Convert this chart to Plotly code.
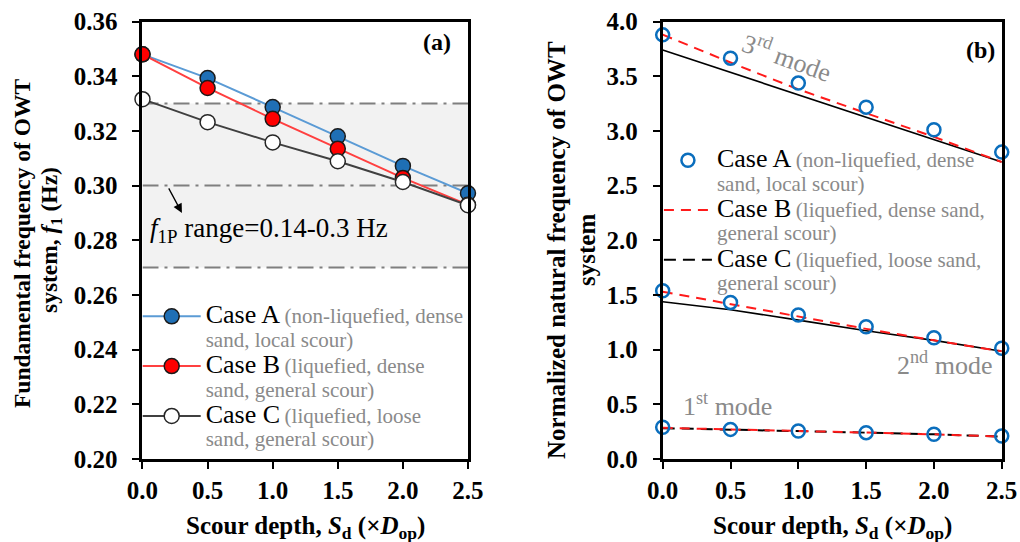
import plotly.graph_objects as go

# Scour depth (multiples of pile diameter D_op)
sd = [0.0, 0.5, 1.0, 1.5, 2.0, 2.5]

# (a) Fundamental frequency f1 (Hz)
f1_case_a = [0.348, 0.3393, 0.3287, 0.3180, 0.3072, 0.2972]
f1_case_b = [0.348, 0.3357, 0.3244, 0.3135, 0.3028, 0.2930]
f1_case_c = [0.3316, 0.3232, 0.3158, 0.3089, 0.3013, 0.2928]

# 1P band limits and reference line
band_low, band_high, band_mid = 0.27, 0.33, 0.30

# (b) Normalized natural frequencies, modes 1-3
mode1_a = [0.290, 0.271, 0.256, 0.241, 0.226, 0.210]
mode1_b = [0.285, 0.272, 0.257, 0.242, 0.226, 0.205]
mode1_c = [0.282, 0.270, 0.256, 0.241, 0.226, 0.205]
mode2_a = [1.538, 1.432, 1.316, 1.210, 1.109, 1.012]
mode2_b = [1.530, 1.415, 1.300, 1.190, 1.085, 0.985]
mode2_c = [1.438, 1.365, 1.270, 1.173, 1.085, 0.985]
mode3_a = [3.878, 3.665, 3.437, 3.217, 3.010, 2.806]
mode3_b = [3.880, 3.625, 3.380, 3.165, 2.945, 2.715]
mode3_c = [3.740, 3.535, 3.330, 3.130, 2.925, 2.715]

x_ticks = [0.0, 0.5, 1.0, 1.5, 2.0, 2.5]
ya_ticks = [0.20, 0.22, 0.24, 0.26, 0.28, 0.30, 0.32, 0.34, 0.36]
yb_ticks = [0.0, 0.5, 1.0, 1.5, 2.0, 2.5, 3.0, 3.5, 4.0]

SERIF = "Liberation Serif, 'Times New Roman', Times, serif"
GRAY = "#8a8a8a"


def legend_name(case, line1, line2):
    return (f"<span style='font-size:26px'>{case}</span> "
            f"<span style='font-size:21px;fill:{GRAY}'>{line1}</span><br>"
            f"<span style='font-size:21px;fill:{GRAY}'>{line2}</span>")


fig = go.Figure()

# ---- panel (a) ----
fig.add_trace(go.Scatter(
    x=sd, y=f1_case_a, mode="lines+markers", xaxis="x", yaxis="y", cliponaxis=False,
    line=dict(color="#5b9bd5", width=2),
    marker=dict(size=15, color="#1f6fb5", line=dict(color="#1a1a1a", width=1.5)),
    name=legend_name("Case A", "(non-liquefied, dense", "sand, local scour)"),
    legend="legend", legendrank=1))
fig.add_trace(go.Scatter(
    x=sd, y=f1_case_b, mode="lines+markers", xaxis="x", yaxis="y", cliponaxis=False,
    line=dict(color="#ff4040", width=2),
    marker=dict(size=15, color="#ff0000", line=dict(color="#1a1a1a", width=1.5)),
    name=legend_name("Case B", "(liquefied, dense", "sand, general scour)"),
    legend="legend", legendrank=2))
fig.add_trace(go.Scatter(
    x=sd, y=f1_case_c, mode="lines+markers", xaxis="x", yaxis="y", cliponaxis=False,
    line=dict(color="#404040", width=2),
    marker=dict(size=15, color="white", line=dict(color="#262626", width=1.5)),
    name=legend_name("Case C", "(liquefied, loose", "sand, general scour)"),
    legend="legend", legendrank=3))

# ---- panel (b) ----
for ys in (mode3_c, mode2_c):
    fig.add_trace(go.Scatter(
        x=sd, y=ys, mode="lines", xaxis="x2", yaxis="y2",
        line=dict(color="black", width=1.6), showlegend=False, legend="legend2"))
fig.add_trace(go.Scatter(
    x=sd, y=mode1_c, mode="lines", xaxis="x2", yaxis="y2",
    line=dict(color="black", width=2, dash="12px,7px"),
    name=legend_name("Case C", "(liquefied, loose sand,", "general scour)"),
    legend="legend2", legendrank=3))
for i, ys in enumerate((mode3_b, mode2_b, mode1_b)):
    fig.add_trace(go.Scatter(
        x=sd, y=ys, mode="lines", xaxis="x2", yaxis="y2",
        line=dict(color="#ff1a1a", width=2, dash="10px,7px"),
        name=legend_name("Case B", "(liquefied, dense sand,", "general scour)"),
        showlegend=(i == 0), legend="legend2", legendrank=2))
for i, ys in enumerate((mode3_a, mode2_a, mode1_a)):
    fig.add_trace(go.Scatter(
        x=sd, y=ys, mode="markers", xaxis="x2", yaxis="y2", cliponaxis=False,
        marker=dict(size=13, color="#0a6ebd", symbol="circle-open",
                    line=dict(width=2.5)),
        name=legend_name("Case A", "(non-liquefied, dense", "sand, local scour)"),
        showlegend=(i == 0), legend="legend2", legendrank=1))

axis_common = dict(
    showline=True, mirror=True, linewidth=3, linecolor="black",
    ticks="outside", ticklen=7, tickwidth=1.5, tickcolor="black",
    showgrid=False, zeroline=False, automargin=False,
    tickfont=dict(family=SERIF, size=25, color="black", weight="bold"),
)

fig.update_layout(
    template="none",
    width=1020, height=542,
    margin=dict(l=0, r=0, t=0, b=0),
    paper_bgcolor="white", plot_bgcolor="white",
    font=dict(family=SERIF, color="black"),
    xaxis=dict(domain=[0.1397, 0.4588], range=[0, 2.5], tickvals=x_ticks,
               ticktext=[f"{v:.1f}" for v in x_ticks], anchor="y", **axis_common),
    yaxis=dict(domain=[0.1531, 0.9603], range=[0.20, 0.36], tickvals=ya_ticks,
               ticktext=[f"{v:.2f}" for v in ya_ticks], anchor="x",
               ticklabelstandoff=10, **axis_common),
    xaxis2=dict(domain=[0.6497, 0.9821], range=[0, 2.5], tickvals=x_ticks,
                ticktext=[f"{v:.1f}" for v in x_ticks], anchor="y2", **axis_common),
    yaxis2=dict(domain=[0.1531, 0.9603], range=[0, 4.0], tickvals=yb_ticks,
                ticktext=[f"{v:.1f}" for v in yb_ticks], anchor="x2",
                ticklabelstandoff=10, **axis_common),
    legend=dict(x=0.135, y=0.45, xanchor="left", yanchor="top",
                bgcolor="rgba(0,0,0,0)", font=dict(family=SERIF, size=18, color="black"),
                valign="top", itemwidth=58, borderwidth=0),
    legend2=dict(x=0.646, y=0.738, xanchor="left", yanchor="top",
                 bgcolor="rgba(0,0,0,0)", font=dict(family=SERIF, size=18, color="black"),
                 valign="top", itemwidth=48, borderwidth=0),
    showlegend=True,
)

# 1P frequency band
fig.add_shape(type="rect", xref="x", yref="y", x0=0, x1=2.5, y0=band_low, y1=band_high,
              fillcolor="#f2f2f2", line_width=0, layer="below")
for yv in (band_low, band_mid, band_high):
    fig.add_shape(type="line", xref="x", yref="y", x0=0, x1=2.5, y0=yv, y1=yv,
                  line=dict(color="#7f7f7f", width=2, dash="16px,6px,3px,6px"), layer="below")

TITLE_FONT = dict(family=SERIF, size=25, color="black")
TITLE_FONT_A = dict(family=SERIF, size=23.5, color="black")
annots = [
    dict(xref="x", yref="y", x=0.04, y=0.2838, xanchor="left", yanchor="middle",
         text="<i>f</i><sub>1P</sub> range=0.14-0.3 Hz", showarrow=False,
         font=dict(family=SERIF, size=27, color="black")),
    dict(xref="x", yref="y", x=0.303, y=0.290, ax=-14, ay=-26, text="",
         showarrow=True, arrowhead=2, arrowsize=1.4, arrowwidth=1.3, arrowcolor="black"),
    dict(xref="x", yref="y", x=2.26, y=0.3525, text="<b>(a)</b>", showarrow=False,
         xanchor="center", yanchor="middle", font=dict(family=SERIF, size=24, color="black")),
    dict(xref="x2", yref="y2", x=2.34, y=3.74, text="<b>(b)</b>", showarrow=False,
         xanchor="center", yanchor="middle", font=dict(family=SERIF, size=24, color="black")),
    dict(xref="x2", yref="y2", x=0.917, y=3.68, text="3<sup>rd</sup> mode", textangle=20,
         xanchor="center", yanchor="middle",
         showarrow=False, font=dict(family=SERIF, size=26, color=GRAY)),
    dict(xref="x2", yref="y2", x=2.08, y=0.877, text="2<sup>nd</sup> mode",
         xanchor="center", yanchor="middle",
         showarrow=False, font=dict(family=SERIF, size=26, color=GRAY)),
    dict(xref="x2", yref="y2", x=0.475, y=0.494, text="1<sup>st</sup> mode",
         xanchor="center", yanchor="middle",
         showarrow=False, font=dict(family=SERIF, size=26, color=GRAY)),
    # axis titles
    dict(xref="paper", yref="paper", x=305 / 1020, y=1 - 527 / 542,
         xanchor="center", yanchor="middle",
         text="<b>Scour depth, <i>S</i><sub>d</sub> (×<i>D</i><sub>op</sub>)</b>",
         showarrow=False, font=TITLE_FONT),
    dict(xref="paper", yref="paper", x=832 / 1020, y=1 - 527 / 542,
         xanchor="center", yanchor="middle",
         text="<b>Scour depth, <i>S</i><sub>d</sub> (×<i>D</i><sub>op</sub>)</b>",
         showarrow=False, font=TITLE_FONT),
    dict(xref="paper", yref="paper", x=22 / 1020, y=1 - 243 / 542, textangle=-90,
         xanchor="center", yanchor="middle",
         text="<b>Fundamental frequency of OWT</b>", showarrow=False, font=TITLE_FONT_A),
    dict(xref="paper", yref="paper", x=51 / 1020, y=1 - 240 / 542, textangle=-90,
         xanchor="center", yanchor="middle",
         text="<b>system, <i>f</i><sub>1</sub> (Hz)</b>", showarrow=False, font=TITLE_FONT_A),
    dict(xref="paper", yref="paper", x=557 / 1020, y=1 - 250 / 542, textangle=-90,
         xanchor="center", yanchor="middle",
         text="<b>Normalized natural frequency of OWT</b>", showarrow=False, font=TITLE_FONT),
    dict(xref="paper", yref="paper", x=587 / 1020, y=1 - 250 / 542, textangle=-90,
         xanchor="center", yanchor="middle",
         text="<b>system</b>", showarrow=False, font=TITLE_FONT),
]
fig.update_layout(annotations=annots)

fig.write_html("out.html")
